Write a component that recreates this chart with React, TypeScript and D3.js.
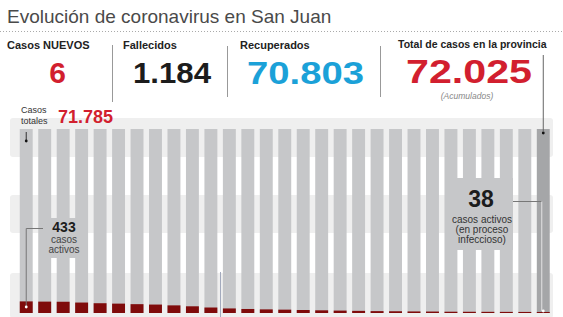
import React from 'react';
import * as d3 from 'd3';

// casos activos por día (aprox.)
const activeCases = [
    433, 425, 420, 390, 365, 350, 330, 315, 285, 250, 205, 170, 150, 135, 125,
    112, 100, 90, 80, 70, 65, 58, 54, 48, 46, 44, 42, 40, 38,
];
const headerLabels = ['Casos NUEVOS', 'Fallecidos', 'Recuperados', 'Total de casos en la provincia'];
const headerValues = ['6', '1.184', '70.803', '72.025'];
const totalStart = '71.785';
const firstActive = '433';
const lastActive = '38';

const W = 563;
const H = 317;
const font = '"Liberation Sans", Arial, Helvetica, sans-serif';
const barGray = '#c6c7c9';
const red = '#d21f2f';

export default function App() {
    const x = d3
        .scaleBand<number>()
        .domain(d3.range(activeCases.length))
        .range([17, 552.5])
        .paddingInner(0.3)
        .paddingOuter(0.15);
    const top = 129;
    const bottom = 313;
    // la escala roja no guarda proporción con el total (como en el original)
    const yRed = d3.scaleLinear().domain([0, 433]).range([bottom, bottom - 11.6]);
    const bw = x.bandwidth();
    const last = activeCases.length - 1;
    const cx0 = x(0)! + bw / 2;
    const cxN = x(last)! + bw / 2;

    const bands = [
        [118, 157],
        [195, 233],
        [273, 318],
    ];

    return (
        <svg width={W} height={H} style={{ position: 'absolute', left: 0, top: 0 }} fontFamily={font}>
            <rect width={W} height={H} fill="#fff" />
            <text x={7} y={23} fontSize={19} fill="#4a4a4a">
                Evolución de coronavirus en San Juan
            </text>
            <line x1={0} x2={W} y1={31.5} y2={31.5} stroke="#aaa" strokeDasharray="1,2" />

            {/* cabecera */}
            <text x={7} y={49} fontSize={11} fontWeight="bold" fill="#222">{headerLabels[0]}</text>
            <text x={123} y={49} fontSize={11} fontWeight="bold" fill="#222">{headerLabels[1]}</text>
            <text x={240} y={49} fontSize={11} fontWeight="bold" fill="#222">{headerLabels[2]}</text>
            <text x={398} y={48} fontSize={10.5} fontWeight="bold" fill="#222">{headerLabels[3]}</text>

            <text x={57.5} y={83} fontSize={30} fontWeight="bold" fill={red} textAnchor="middle">{headerValues[0]}</text>
            <text x={133} y={83} fontSize={30} fontWeight="bold" fill="#1c1c1c" textLength={78} lengthAdjust="spacingAndGlyphs">{headerValues[1]}</text>
            <text x={247} y={84} fontSize={32} fontWeight="bold" fill="#1ba1d8" textLength={117} lengthAdjust="spacingAndGlyphs">{headerValues[2]}</text>
            <text x={406} y={83} fontSize={34} fontWeight="bold" fill={red} textLength={126} lengthAdjust="spacingAndGlyphs">{headerValues[3]}</text>
            <text x={467} y={98.5} fontSize={8.5} fontStyle="italic" fill="#888" textAnchor="middle">(Acumulados)</text>

            <line x1={112.5} x2={112.5} y1={45} y2={102} stroke="#999" />
            <line x1={227.5} x2={227.5} y1={46} y2={97} stroke="#999" />
            <line x1={380.5} x2={380.5} y1={46} y2={97} stroke="#999" />

            {/* franjas de fondo */}
            {bands.map(([a, b], i) => (
                <rect key={i} x={10} y={a} width={543} height={b - a} rx={3} fill="#efefef" />
            ))}

            {/* columnas grises */}
            {activeCases.map((_, i) => (
                <rect key={i} x={x(i)} y={top} width={bw} height={bottom - top} fill={i === last ? '#a5a6a8' : barGray} />
            ))}

            {/* casos activos */}
            {activeCases.map((d, i) => (
                <rect key={i} x={x(i)} y={yRed(d)} width={bw} height={bottom - yRed(d)} fill="#7f0b0b" />
            ))}

            <line x1={220.5} x2={220.5} y1={272} y2={H} stroke="#a3aabd" />

            {/* casos totales */}
            <text x={21} y={113} fontSize={9} fill="#333">Casos</text>
            <text x={21} y={124} fontSize={9} fill="#333">totales</text>
            <text x={58} y={123} fontSize={18} fontWeight="bold" fill={red}>{totalStart}</text>
            <line x1={cx0} x2={cx0} y1={132} y2={141} stroke="#333" />
            <circle cx={cx0} cy={141} r={1.4} fill="#111" />

            {/* 433 casos activos */}
            <rect x={45} y={218} width={37} height={40} fill={barGray} />
            <text x={64} y={232} fontSize={14} fontWeight="bold" fill="#1c1c1c" textAnchor="middle">{firstActive}</text>
            <text x={64} y={243} fontSize={10} fill="#444" textAnchor="middle">casos</text>
            <text x={64} y={253} fontSize={10} fill="#444" textAnchor="middle">activos</text>
            <path d={`M43,228.5H${cx0}V${yRed(activeCases[0]) + 6}`} fill="none" stroke="#777" />
            <circle cx={cx0} cy={307} r={1.4} fill="#fff" />

            {/* 38 casos activos */}
            <rect x={445} y={178} width={68} height={72} fill={barGray} />
            <text x={481} y={207} fontSize={23} fontWeight="bold" fill="#1c1c1c" textAnchor="middle">{lastActive}</text>
            <text x={482} y={223} fontSize={10} fill="#333" textAnchor="middle">casos activos</text>
            <text x={482} y={233} fontSize={10} fill="#333" textAnchor="middle">(en proceso</text>
            <text x={482} y={243} fontSize={10} fill="#333" textAnchor="middle">infeccioso)</text>
            <path d={`M513,201.5H${cxN - 1.5}`} fill="none" stroke="#777" />
            <path d={`M${cxN - 1.5},201.5V311`} fill="none" stroke="#e4e4e4" />
            <circle cx={cxN} cy={311} r={1.4} fill="#fff" />

            {/* total provincia */}
            <line x1={cxN} x2={cxN} y1={55} y2={131} stroke="#666" />
            <circle cx={cxN} cy={133} r={1.4} fill="#111" />
        </svg>
    );
}
